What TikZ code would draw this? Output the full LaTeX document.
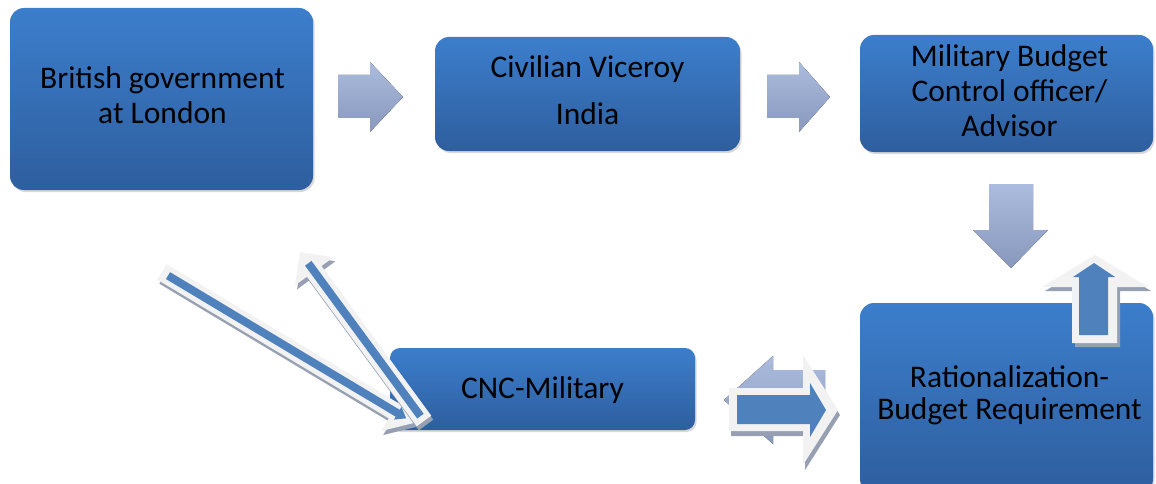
\documentclass[tikz,border=0pt]{standalone}
\usepackage{fontspec}
\setmainfont{Carlito}
\usetikzlibrary{arrows.meta,shadows,calc}
\definecolor{boxtop}{RGB}{60,126,204}
\definecolor{boxbot}{RGB}{46,94,158}
\definecolor{gtop}{RGB}{172,188,222}
\definecolor{gbot}{RGB}{136,152,188}
\definecolor{oblue}{RGB}{79,129,189}
\definecolor{owhite}{RGB}{242,242,242}
\definecolor{shad}{RGB}{150,160,178}
\begin{document}
\begin{tikzpicture}[x=1pt,y=-1pt,
  box/.style={rounded corners=14pt, top color=boxtop, bottom color=boxbot, draw=none,
    inner sep=0pt, drop shadow={opacity=0.3,shadow xshift=1.5pt,shadow yshift=-2pt}},
  lbl/.style={inner sep=0pt, align=center, font=\fontsize{31.5}{35}\selectfont, text=black},
  grad/.style={top color=gtop, bottom color=gbot, draw=none},
  wband/.style={owhite, line width=18pt},
  bband/.style={oblue, line width=8pt},
  sband/.style={shad, line width=18pt}]
\fill[white] (0,0) rectangle (1156,484);
\useasboundingbox (0,0) rectangle (1156,484);

% boxes
\node[box, minimum width=303pt, minimum height=182pt] (b1) at (161.5,99) {};
\node[box, minimum width=305pt, minimum height=114pt] (b2) at (587.5,94) {};
\node[box, minimum width=293pt, minimum height=117pt] (b3) at (1006.5,93.5) {};
\node[box, minimum width=305pt, minimum height=82pt, rounded corners=10pt] (b4) at (542.5,389) {};
\node[box, minimum width=293pt, minimum height=190pt] (b5) at (1006.5,398) {};

% texts
\node[lbl] (t1) at ($(b1.center)+(1,-4)$) {British government\\at London};
\node[lbl] (t2) at ($(b2.center)+(0,-4)$) {Civilian Viceroy\\[12pt]India};
\node[lbl] (t3) at ($(b3.center)+(3,-3)$) {Military Budget\\Control officer/\\Advisor};
\node[lbl] (t4) at ($(b4.center)+(0,1)$) {CNC-Military};
\node[lbl, font=\fontsize{31.5}{32}\selectfont] (t5) at ($(b5.center)+(3,-3)$) {Rationalization-\\Budget Requirement};

% gradient block arrows
\fill[grad] (338,75) -- (370,75) -- (370,62) -- (403,97) -- (370,132) -- (370,118) -- (338,118) -- cycle;
\fill[grad] (767,75) -- (799,75) -- (799,62) -- (830,97) -- (799,132) -- (799,118) -- (767,118) -- cycle;
\fill[grad] (989,184) -- (1033,184) -- (1033,230) -- (1048,230) -- (1011,268) -- (973,230) -- (989,230) -- cycle;

% up outlined arrow
\fill[shad] ([shift={(3,4)}]1072,343) -- ++(45,0) -- ++(0,-56) -- ++(31,0) -- ++(-53,-32) -- ++(-53,32) -- ++(30,0) -- cycle;
\fill[owhite] (1072,343) -- (1117,343) -- (1117,287) -- (1148,287) -- (1095,255) -- (1042,287) -- (1072,287) -- cycle;
\fill[oblue] (1079,335) -- (1108,335) -- (1108,277) -- (1115,277) -- (1094,263) -- (1073,277) -- (1079,277) -- cycle;

% bottom arrows
\fill[grad] (825,370) -- (773,370) -- (773,356) -- (724,400) -- (773,444) -- (773,430) -- (825,430) -- cycle;
\fill[shad] ([shift={(2,5)}]729,388) -- ++(74,0) -- ++(0,-33) -- ++(35,55) -- ++(-35,55) -- ++(0,-34) -- ++(-74,0) -- cycle;
\fill[owhite] (729,388) -- (803,388) -- (803,355) -- (838,410) -- (803,465) -- (803,431) -- (729,431) -- cycle;
\fill[oblue] (737,395) -- (810,395) -- (810,383) -- (826,410) -- (810,437) -- (810,424) -- (737,424) -- cycle;

% diagonal connectors
\coordinate (as) at (162,272);
\coordinate (ae) at (414,423);
\coordinate (bs) at (424,421);
\coordinate (be) at (300,252);
\draw[sband, -{Triangle[width=46pt,length=24pt]}] ([shift={(2,4)}]as) -- ([shift={(2,4)}]ae);
\draw[wband, -{Triangle[width=46pt,length=24pt]}] (as) -- (ae);
\draw[bband, -{Triangle[width=14pt,length=10pt]}] ($(as)!7pt!(ae)$) -- ($(ae)!9pt!(as)$);
\draw[sband, -{Triangle[width=46pt,length=24pt]}] ([shift={(2,4)}]bs) -- ([shift={(2,4)}]be);
\draw[wband, -{Triangle[width=46pt,length=24pt]}] (bs) -- (be);
\draw[bband] ($(bs)!6pt!(be)$) -- ($(be)!14pt!(bs)$);
\end{tikzpicture}
\end{document}
